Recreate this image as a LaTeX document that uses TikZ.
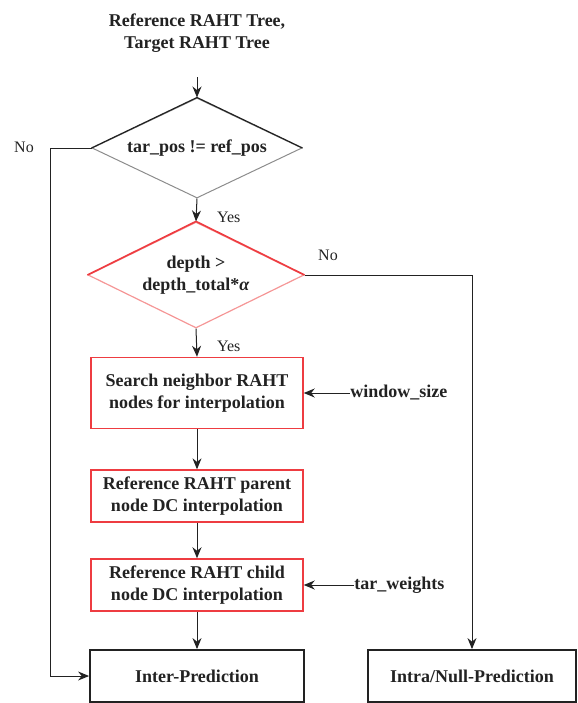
\documentclass[tikz,border=0pt]{standalone}
\usepackage{fontspec}
\setmainfont{Liberation Serif}
\usepackage{tikz}
\usetikzlibrary{arrows.meta,positioning,shapes.geometric,calc}
\definecolor{darktext}{RGB}{34,34,34}
\definecolor{boxred}{RGB}{238,60,65}
\definecolor{lightred}{RGB}{245,150,150}
\definecolor{edgegray}{gray}{0.55}
\tikzset{
  arr/.style={-{Stealth[length=5.5pt,width=4.5pt]}, line width=0.5pt, darktext},
  decision/.style={diamond, inner sep=0pt, aspect=2.1, align=center},
  redbox/.style={draw=boxred, line width=0.75pt, minimum width=106pt, align=center},
  endbox/.style={draw=darktext, line width=0.9pt, minimum height=26pt, align=center},
  lbl/.style={darktext, font=\fontsize{8}{9}\selectfont}
}
\begin{document}
\begin{tikzpicture}[x=0.5pt, y=-0.5pt, font=\bfseries\fontsize{9}{11}\selectfont, text=darktext]
        \useasboundingbox (0,0) rectangle (578,703);

        \node[align=center] (title) at (197,33) {Reference RAHT Tree,\\Target RAHT Tree};

        % Decisions
        \node[decision, draw=edgegray, line width=0.5pt, minimum width=105pt, minimum height=50pt]
          (pos) at (197,148) {tar\_pos != ref\_pos};
        \draw[darktext, line width=0.6pt] (pos.west) -- (pos.north) -- (pos.east);

        \node[decision, draw=lightred, line width=0.6pt, minimum width=108pt, minimum height=53pt]
          (depth) at (196,275) {depth >\\depth\_total*\textit{α}};
        \draw[boxred, line width=0.8pt] (depth.west) -- (depth.north) -- (depth.east);

        % Processing boxes
        \node[redbox, minimum height=35.5pt] (search) at (197,393) {Search neighbor RAHT\\nodes for interpolation};
        \node[redbox, minimum height=25.5pt] (parent) at (197,496) {Reference RAHT parent\\node DC interpolation};
        \node[redbox, minimum height=26pt] (child) at (197,585) {Reference RAHT child\\node DC interpolation};

        \node[endbox, minimum width=107pt] (inter) at (197,676) {Inter-Prediction};
        \node[endbox, minimum width=104pt] (intra) at (472,676) {Intra/Null-Prediction};

        % Side inputs
        \node[anchor=west, inner sep=0pt] (win) at (350,393) {window\_size};
        \node[anchor=west, inner sep=0pt] (wts) at (354,585) {tar\_weights};

        % Flow
        \draw[arr] (title.south) ++(0,18) -- (pos.north);
        \draw[arr] (pos.south) -- (depth.north);
        \draw[arr] (depth.south) -- (search.north);
        \draw[arr] (search.south) -- (parent.north);
        \draw[arr] (parent.south) -- (child.north);
        \draw[arr] (child.south) -- (inter.north);
        \draw[arr] (win.west) -- (search.east);
        \draw[arr] (wts.west) -- (child.east);
        \draw[arr] (pos.west) -- ++(-41,0) |- (inter.west);
        \draw[arr] (depth.east) -| (intra.north);

        \node[lbl] (no1) at (24,147) {No};
        \node[lbl, anchor=west] (yes1) at (210,217) {Yes};
        \node[lbl] (no2) at (328,255) {No};
        \node[lbl, anchor=west] (yes2) at (210,346) {Yes};
    \end{tikzpicture}
\end{document}
